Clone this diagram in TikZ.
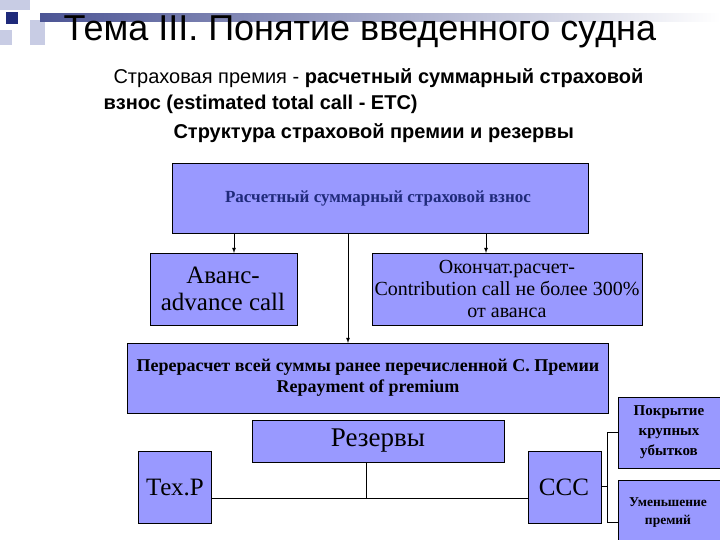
\documentclass[tikz,border=0pt]{standalone}
\usepackage{fontspec}
\setmainfont{Liberation Serif}
\newfontfamily\ssf{Liberation Sans}
\begin{document}
\begin{tikzpicture}[x=1pt,y=-1pt,
  bx/.style={draw=black,fill=boxc,line width=0.8pt},
  ln/.style={draw=black,line width=0.8pt},
  ar/.style={ln,-latex}]
\definecolor{boxc}{HTML}{9999FF}
\definecolor{navy}{HTML}{1F2A7A}
\definecolor{pale}{HTML}{C8CCE4}
\useasboundingbox (0,0) rectangle (720,540);
% decoration
\fill[pale] (0,0) rectangle (30,10);
\fill[pale] (30,20) rectangle (45,45);
\fill[pale] (0,30) rectangle (12,45);
\fill[navy] (6,12) rectangle (18,24);
\shade[left color=navy!80,right color=white] (40,14) rectangle (720,22);
% texts
\node[font=\ssf\fontsize{36}{40}\selectfont,anchor=west] (title) at (60,32) {Тема III. Понятие введенного судна};
\node[font=\ssf\fontsize{20}{23}\selectfont,anchor=west] (s1) at (110,78) {Страховая премия - \textbf{расчетный суммарный страховой}};
\node[font=\ssf\bfseries\fontsize{20}{23}\selectfont,anchor=west] (s2) at (100,104) {взнос (estimated total call - ETC)};
\node[font=\ssf\bfseries\fontsize{20}{23}\selectfont,anchor=west] (s3) at (170,133) {Структура страховой премии и резервы};
% boxes
\path[bx] (172,163) rectangle (588,233); \node[font=\bfseries\fontsize{17}{20}\selectfont,text=navy] (top) at (378,198) {Расчетный суммарный страховой взнос};
\path[bx] (150,253) rectangle (297,325); \node[font=\fontsize{25}{27}\selectfont,align=center] (av) at (223,289) {Аванс-\\advance call};
\path[bx] (372,253) rectangle (642,325); \node[font=\fontsize{20}{22}\selectfont,align=center] (ok) at (507,289) {Окончат.расчет-\\Contribution call не более 300\%\\от аванса};
\path[bx] (127,343) rectangle (608,413); \node[font=\bfseries\fontsize{18}{21}\selectfont,align=center] (rp) at (368,378) {Перерасчет всей суммы ранее перечисленной С. Премии\\Repayment of premium};
\path[bx] (252,420) rectangle (504,462); \node[font=\fontsize{27}{30}\selectfont] (rz) at (378,441) {Резервы};
\path[bx] (138,451) rectangle (211,523); \node[font=\fontsize{25}{28}\selectfont] (tp) at (175,487) {Тех.Р};
\path[bx] (528,451) rectangle (601,523); \node[font=\fontsize{25}{28}\selectfont] (ccc) at (564,487) {ССС};
\path[bx] (618,397) rectangle (722,468); \node[font=\bfseries\fontsize{15}{20}\selectfont,align=center] (pk) at (669,432) {Покрытие\\крупных\\убытков};
\path[bx] (618,480) rectangle (722,545); \node[font=\bfseries\fontsize{13.5}{18}\selectfont,align=center] (um) at (668,513) {Уменьшение\\премий};
% connectors
\coordinate (a1) at (234,233); \coordinate (a1e) at (234,253);
\coordinate (a2) at (486,233); \coordinate (a2e) at (486,253);
\coordinate (a3) at (348,233); \coordinate (a3e) at (348,343);
\draw[ar] (a1) -- (a1e); \draw[ar] (a2) -- (a2e); \draw[ar] (a3) -- (a3e);
\coordinate (r1) at (366,462); \coordinate (r2) at (366,498);
\coordinate (t1) at (211,498); \coordinate (c1) at (528,498);
\draw[ln] (r1) -- (r2); \draw[ln] (t1) -- (c1);
\coordinate (c2) at (601,486); \coordinate (b0) at (607,486);
\coordinate (b1) at (607,432); \coordinate (b2) at (607,522);
\coordinate (p1) at (618,432); \coordinate (p2) at (618,522);
\draw[ln] (c2) -- (b0); \draw[ln] (p1) -- (b1) -- (b2) -- (p2);
\end{tikzpicture}
\end{document}
